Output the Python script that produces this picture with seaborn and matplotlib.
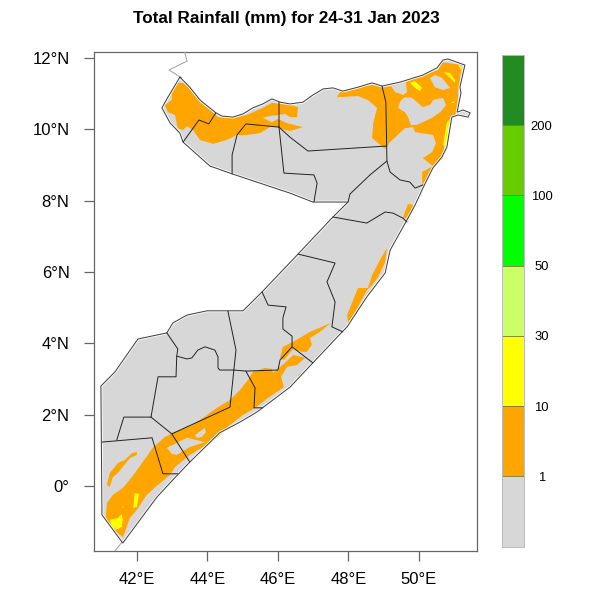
import numpy as np
import pandas as pd
import matplotlib
matplotlib.use("Agg")
import matplotlib.pyplot as plt
from matplotlib.colors import ListedColormap
import seaborn as sns

title = "Total Rainfall (mm) for 24-31 Jan 2023"
lon_ticks = [42, 44, 46, 48, 50]
lon_labels = ["42°E", "44°E", "46°E", "48°E", "50°E"]
lat_ticks = [0, 2, 4, 6, 8, 10, 12]
lat_labels = ["0°", "2°N", "4°N", "6°N", "8°N", "10°N", "12°N"]
class_colors = ["#D7D7D7", "#FFA500", "#FFFF00", "#CCFF66", "#00FF00", "#66CC00", "#228B22"]
class_limits = ["1", "10", "30", "50", "100", "200"]

coast = [(43.22,11.46),(43.50,11.18),(43.79,10.82),(44.24,10.46),(44.41,10.37),(44.72,10.34),(45.01,10.43),
 (45.29,10.60),(45.57,10.71),(45.83,10.85),(46.06,10.76),(46.34,10.71),(46.71,10.76),(46.99,10.96),(47.28,11.13),
 (47.56,11.16),(47.84,11.07),(48.27,11.18),(48.67,11.30),(48.95,11.21),(49.46,11.32),(50.11,11.52),(50.51,11.72),
 (50.68,11.94),(50.82,11.97),(51.30,11.80),(51.16,11.18),(51.19,11.02),(51.08,10.48),(51.25,10.54),(51.45,10.46),
 (51.39,10.34),(51.11,10.40),(50.93,10.34),(50.79,9.50),(50.65,9.22),(50.39,8.91),(50.11,8.35),(49.89,7.88),
 (49.66,7.46),(49.18,6.61),(49.04,5.97),(48.52,5.30),(47.96,4.46),(47.82,4.32),(46.99,3.45),(46.34,2.77),
 (45.40,2.07),(44.92,1.79),(44.35,1.49),(43.50,0.67),(43.02,0.17),(42.57,-0.31),(41.60,-1.60),(41.01,-0.81),
 (40.98,2.80),(41.38,3.20),(42.03,4.12),(42.85,4.29),(43.02,4.57),(43.42,4.79),(43.99,4.91),(44.58,4.91),
 (45.01,4.91),(45.55,5.44),(46.57,6.50),(47.56,7.54),(47.99,7.96),(46.99,7.96),(46.34,8.21),(44.70,8.75),
 (44.07,8.97),(43.31,9.64),(43.22,9.89),(42.94,10.18),(42.71,10.60),(42.88,10.90),(43.22,11.46)]

rain_1_10_nw = [(43.11,11.24),(43.16,11.30),(43.45,11.30),(43.56,11.04),(43.79,10.76),(44.16,10.48),(44.30,10.34),
 (44.72,10.32),(45.12,10.40),(45.57,10.60),(45.83,10.74),(46.34,10.68),(46.57,10.62),(46.54,10.34),(46.34,10.34),
 (46.20,10.43),(45.77,10.37),(45.57,10.32),(45.83,10.20),(46.00,10.29),(46.26,10.17),(46.71,10.06),(46.34,9.95),
 (46.20,9.98),(46.00,10.06),(45.77,10.06),(45.49,9.89),(45.12,9.84),(44.84,9.84),(44.55,9.70),(44.16,9.59),
 (43.79,9.70),(43.59,9.98),(43.42,10.09),(43.31,9.98),(43.16,10.03),(43.08,10.40),(42.88,10.48),(42.79,10.68),
 (42.99,10.82),(42.99,11.02)]
rain_1_10_ne = [(47.67,10.90),(47.76,11.04),(48.27,11.18),(48.67,11.24),(48.98,11.18),(49.21,11.21),(49.63,11.32),
 (50.11,11.52),(50.54,11.66),(50.65,11.88),(51.22,11.80),(51.11,11.10),(51.08,10.46),(50.88,10.32),(50.79,9.98),
 (50.71,9.50),(50.68,9.19),(50.45,8.97),(50.17,8.44),(50.11,8.38),(50.09,8.52),(50.09,8.80),(50.39,8.97),
 (50.11,9.19),(50.37,9.36),(50.48,9.61),(50.40,9.84),(49.89,9.92),(49.83,10.06),(49.60,10.03),(49.18,9.64),
 (49.04,9.45),(48.67,9.75),(48.70,10.17),(48.81,10.60),(48.55,10.82),(48.27,10.93)]
rain_1_10_e1 = [(49.83,7.88),(49.69,7.91),(49.60,7.68),(49.54,7.51),(49.69,7.51),(49.83,7.74)]
rain_1_10_e2 = [(49.09,6.67),(49.04,6.28),(48.84,5.86),(48.67,5.63),(48.52,5.49),(48.27,5.02),(48.10,4.74),
 (47.99,4.57),(47.96,4.79),(48.27,5.55),(48.55,5.55),(48.67,5.91),(48.89,6.33)]
rain_1_10_s1 = [(47.50,4.57),(46.91,4.32),(46.43,4.04),(46.14,3.90),(46.06,3.59),(46.17,3.53),(46.43,3.84),
 (46.68,3.76),(46.82,3.76),(46.96,3.95),(46.91,4.15),(47.19,4.32)]
rain_1_10_s2 = [(45.29,3.20),(45.63,3.31),(45.83,3.28),(45.86,3.17),(46.20,3.45),(46.43,3.67),(46.57,3.64),
 (46.77,3.59),(46.54,3.39),(46.26,3.34),(46.09,3.06),(46.17,2.77),(45.72,2.47),(45.35,2.19),(45.01,1.99),
 (44.64,1.71),(44.30,1.37),(44.07,1.21),(43.50,0.87),(43.08,0.53),(42.94,0.31),(42.60,0.03),(42.28,-0.25),
 (42.00,-0.67),(41.80,-0.90),(41.66,-1.29),(41.60,-1.43),(41.23,-1.15),(41.12,-0.87),(41.15,-0.48),(41.32,-0.25),
 (41.60,-0.06),(41.86,0.25),(42.31,0.87),(42.45,1.07),(42.79,1.37),(43.02,1.49),(43.59,1.71),(44.27,2.19),
 (44.64,2.41),(44.92,2.69),(45.15,2.97)]
rain_1_10_s3 = [(46.57,3.11),(46.82,3.25),(46.77,3.17),(46.62,3.03)]
rain_1_10_s4 = [(41.15,0.03),(41.23,0.36),(41.46,0.64),(41.66,0.73),(41.86,0.92),(42.00,0.95),(42.00,0.87),
 (41.80,0.78),(41.46,0.36),(41.32,0.25),(41.23,-0.03)]
rain_1_10_e3 = [(50.03,8.30),(50.11,8.35),(50.06,8.10)]

dry_gap_1 = [(49.21,11.21),(49.63,11.32),(49.66,11.04),(49.55,10.96),(49.40,11.02),(49.32,11.04)]
dry_gap_2 = [(49.40,10.60),(49.49,10.82),(49.60,10.90),(49.80,10.88),(49.97,10.74),(50.11,10.62),(50.31,10.68),
 (50.40,10.82),(50.68,10.88),(50.77,10.68),(50.60,10.48),(50.37,10.32),(49.94,10.12),(49.77,10.12),(49.69,10.34),(49.60,10.48)]
dry_gap_3 = [(50.31,11.44),(50.45,11.52),(50.65,11.44),(50.88,11.16),(50.68,11.10),(50.45,11.18)]
dry_gap_4 = [(43.65,1.43),(43.93,1.63),(43.96,1.51),(43.84,1.37),(43.70,1.35)]
dry_gap_5 = [(42.85,1.07),(43.42,1.35),(43.93,1.23),(43.50,1.09),(43.13,0.87),(42.99,0.90)]

rain_10_30_a = [(49.74,11.30),(49.89,11.35),(50.09,11.16),(50.03,11.07),(49.89,11.16)]
rain_10_30_b = [(50.71,11.60),(50.88,11.58),(51.02,11.38),(51.02,11.30),(50.88,11.44)]
rain_10_30_c = [(50.91,10.76),(51.02,10.79),(50.99,10.74),(50.94,10.74)]
rain_10_30_d = [(51.11,11.80),(51.22,11.77),(51.19,11.66)]
rain_10_30_e = [(50.79,10.20),(50.85,10.26),(50.82,9.78),(50.74,9.50),(50.68,9.56)]
rain_10_30_f = [(41.94,-0.20),(42.06,-0.22),(42.00,-0.59),(41.89,-0.62)]
rain_10_30_g = [(41.23,-0.95),(41.46,-0.90),(41.57,-0.78),(41.60,-0.95),(41.57,-1.15),(41.40,-1.23),(41.29,-1.12)]
rain_10_30_h = [(41.57,-0.56),(41.63,-0.59),(41.60,-0.62)]

border_a = [(44.24,10.46),(44.04,10.15),(43.76,10.26),(43.31,9.64)]
border_b = [(44.70,8.75),(44.70,9.28),(44.84,9.84),(45.09,10.15),(46.03,10.06)]
border_c = [(46.03,10.76),(46.03,10.06),(46.17,8.77),(47.02,8.72),(47.11,8.49),(47.02,7.96)]
border_d = [(46.03,10.06),(46.34,9.78),(46.85,9.39),(49.09,9.53)]
border_e = [(48.95,11.21),(49.06,10.76),(49.09,9.11),(49.18,8.80),(49.46,8.58),(49.74,8.52),(49.89,8.35),(50.11,8.44)]
border_f = [(47.56,7.54),(48.52,7.37),(49.04,7.68),(49.26,7.65),(49.54,7.51),(49.66,7.40)]
border_g = [(46.57,6.50),(47.62,6.25),(47.39,5.72),(47.62,5.16),(47.53,4.46),(47.84,4.32)]
border_h = [(45.55,5.44),(45.72,5.07),(46.23,5.02),(46.14,4.71),(46.14,4.40),(46.40,4.20),(46.40,3.90),(46.06,3.53),(46.00,3.25),(45.09,3.22),(44.75,3.25)]
border_i = [(46.40,3.90),(46.99,3.45)]
border_j = [(44.58,4.91),(44.81,3.81),(44.75,3.25),(44.64,2.21),(42.99,1.46)]
border_k = [(42.85,4.29),(43.16,3.84),(43.13,3.64),(43.11,3.06),(42.60,3.06),(42.40,1.93)]
border_l = [(43.13,3.64),(43.42,3.56),(43.56,3.59),(43.73,3.81),(43.93,3.90),(44.21,3.81),(44.30,3.62),(44.30,3.31),(44.35,3.25),(44.75,3.25)]
border_n = [(42.40,1.93),(41.63,1.93),(41.43,1.29)]
border_o = [(42.40,1.93),(42.99,1.46),(43.50,0.67)]
border_p = [(41.01,1.23),(42.43,1.35),(42.74,0.34),(43.16,0.34)]
border_q = [(45.09,3.22),(45.35,2.75),(45.32,2.19),(45.57,2.19)]
border_r = [(47.99,7.96),(48.04,8.18),(48.61,8.72),(49.09,9.11)]
neighbour_north = [(43.36,12.17),(43.42,11.91),(42.91,11.66),(43.28,11.44)]
neighbour_south = [(41.58,-1.57),(41.38,-1.82)]

rain_low = [rain_1_10_nw, rain_1_10_ne, rain_1_10_e1, rain_1_10_e2, rain_1_10_e3, rain_1_10_s1, rain_1_10_s2, rain_1_10_s3, rain_1_10_s4]
dry_gaps = [dry_gap_1, dry_gap_2, dry_gap_3, dry_gap_4, dry_gap_5]
rain_mid = [rain_10_30_a, rain_10_30_b, rain_10_30_c, rain_10_30_d, rain_10_30_e, rain_10_30_f, rain_10_30_g, rain_10_30_h]
inner_borders = [border_a, border_b, border_c, border_d, border_e, border_f, border_g, border_h, border_i,
                 border_j, border_k, border_l, border_n, border_o, border_p, border_q, border_r]
outer_neighbours = [neighbour_north, neighbour_south]


def lines_frame(groups):
    rows = []
    for g, line in enumerate(groups):
        for o, (lon, lat) in enumerate(line):
            rows.append({"lon": lon, "lat": lat, "line": g, "order": o})
    return pd.DataFrame(rows)


sns.set_theme(style="white")
plt.rcParams["font.family"] = ["Liberation Sans", "DejaVu Sans"]

fig = plt.figure(figsize=(6, 6), dpi=100)
ax = fig.add_axes([93.5 / 600, 1 - 550.5 / 600, 383 / 600, 499 / 600])


def fill_all(polys, color, z):
    for poly in polys:
        xs, ys = zip(*poly)
        ax.fill(xs, ys, color=color, lw=0, zorder=z)


fill_all([coast], class_colors[0], 1)
fill_all(rain_low, class_colors[1], 2)
fill_all(dry_gaps, class_colors[0], 3)
fill_all(rain_mid, class_colors[2], 4)

coast_frame = lines_frame([coast])
sns.lineplot(data=coast_frame, x="lon", y="lat", units="line", estimator=None, sort=False,
             color="white", lw=2.0, ax=ax, zorder=4.5)
sns.lineplot(data=lines_frame(outer_neighbours), x="lon", y="lat", units="line", estimator=None, sort=False,
             color="#aaaaaa", lw=0.8, ax=ax, zorder=5)
sns.lineplot(data=coast_frame, x="lon", y="lat", units="line", estimator=None, sort=False,
             color="#444444", lw=0.75, ax=ax, zorder=6)
sns.lineplot(data=lines_frame(inner_borders), x="lon", y="lat", units="line", estimator=None, sort=False,
             color="#222222", lw=0.7, ax=ax, zorder=6)

ax.set_xlim(40.77, 51.63)
ax.set_ylim(-1.81, 12.18)
ax.set_xlabel("")
ax.set_ylabel("")
ax.set_xticks(lon_ticks, lon_labels)
ax.set_yticks(lat_ticks, lat_labels)
ax.tick_params(axis="x", direction="out", length=7.2, width=0.9, color="#666666", labelsize=12, pad=8, bottom=True, labelcolor="black")
ax.tick_params(axis="y", direction="out", length=7.2, width=0.9, color="#666666", labelsize=12, pad=10, left=True, labelcolor="black")
for s in ax.spines.values():
    s.set_color("#666666")
    s.set_linewidth(0.9)

fig.text(286.5 / 600, 1 - 19 / 600, title, ha="center", va="center", fontsize=12.3, fontweight="bold", color="black")

cax = fig.add_axes([501.7 / 600, 1 - 546.7 / 600, 22.6 / 600, 491.7 / 600])
n_classes = len(class_colors)
sns.heatmap(np.arange(n_classes)[::-1].reshape(-1, 1), cmap=ListedColormap(class_colors), cbar=False,
            xticklabels=False, ax=cax, vmin=0, vmax=n_classes - 1)
for i in range(1, n_classes):
    cax.axhline(i, color="#777733", lw=0.6)
cax.yaxis.tick_right()
cax.set_yticks(np.arange(1, n_classes), class_limits[::-1], rotation=0, ha="center", va="center_baseline")
cax.tick_params(axis="y", length=0, labelsize=9.4, pad=12.5, labelcolor="black")
for s in cax.spines.values():
    s.set_visible(True)
    s.set_color("#bbbbbb")
    s.set_linewidth(0.7)

fig.savefig("out.png", dpi=100, facecolor="white")
